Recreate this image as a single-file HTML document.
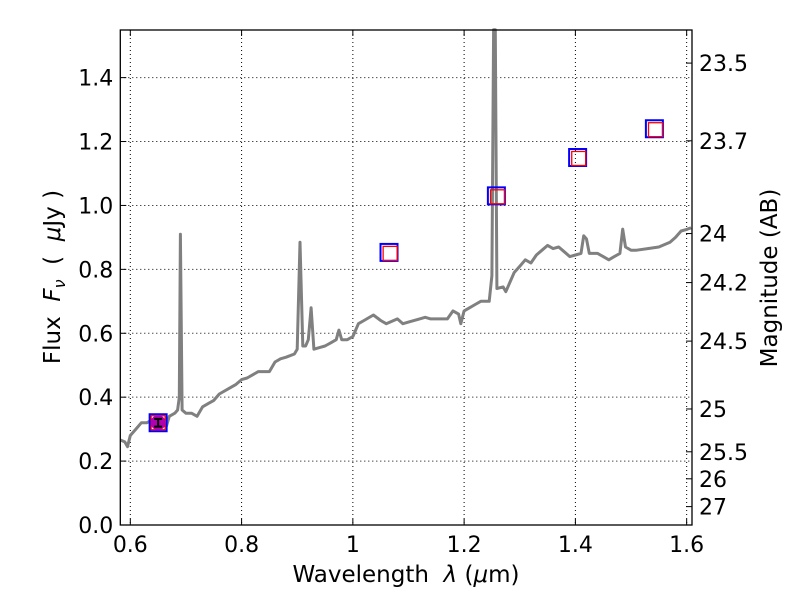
<!DOCTYPE html>
<html><head><meta charset="utf-8"><style>
body{margin:0;background:#fff}
svg text{font-family:"DejaVu Sans","Liberation Sans",sans-serif;fill:#000;white-space:pre}
</style></head><body>
<svg id="chart" width="800" height="600" viewBox="0 0 800 600" xmlns="http://www.w3.org/2000/svg" xml:space="preserve">
<rect width="800" height="600" fill="#fff"/>
<g id="grid"></g>
<g id="spec"></g>
<g id="pts"></g>
<g id="axes"></g>
<text x="406" y="582" font-size="23" text-anchor="middle">Wavelength  <tspan font-style="italic">λ</tspan> (<tspan font-style="italic">μ</tspan>m)</text>
<text transform="translate(60,277) rotate(-90)" font-size="23" text-anchor="middle">Flux  <tspan font-style="italic">F</tspan><tspan font-style="italic" font-size="16" dy="5">ν</tspan><tspan dy="-5">  (  </tspan><tspan font-style="italic">μ</tspan>Jy )</text>
<text transform="translate(777,278) rotate(-90)" font-size="23" text-anchor="middle">Magnitude (AB)</text>
</svg>
<script>
const X0=0.582,X1=1.6096,Y0=0,Y1=1.549;
const L=120.3,R=692,T=30,B=525;
const sx=v=>L+(v-X0)/(X1-X0)*(R-L);
const sy=v=>B-(v-Y0)/(Y1-Y0)*(B-T);
const NS="http://www.w3.org/2000/svg";
function mk(tag,attrs,parent){const e=document.createElementNS(NS,tag);for(const k in attrs)e.setAttribute(k,attrs[k]);parent.appendChild(e);return e;}

const xTicks=[0.6,0.8,1.0,1.2,1.4,1.6];
const xTickLabels=["0.6","0.8","1","1.2","1.4","1.6"];
const yTicks=[0,0.2,0.4,0.6,0.8,1.0,1.2,1.4];
const yTickLabels=["0.0","0.2","0.4","0.6","0.8","1.0","1.2","1.4"];
const magTicks=[23.5,23.7,24,24.2,24.5,25,25.5,26,27];
const magTickLabels=["23.5","23.7","24","24.2","24.5","25","25.5","26","27"];
const specWave=[0.582,0.59,0.595,0.6,0.61,0.62,0.63,0.64,0.65,0.66,0.665,0.67,0.68,0.685,0.688,0.69,0.693,0.70,0.71,0.72,0.73,0.74,0.75,0.76,0.78,0.79,0.80,0.81,0.82,0.83,0.84,0.85,0.86,0.87,0.88,0.895,0.9,0.905,0.91,0.915,0.92,0.925,0.93,0.94,0.95,0.96,0.97,0.975,0.98,0.99,1.0,1.01,1.02,1.037,1.05,1.06,1.08,1.09,1.1,1.12,1.13,1.14,1.15,1.17,1.18,1.19,1.194,1.2,1.21,1.22,1.23,1.24,1.245,1.25,1.253,1.256,1.259,1.27,1.275,1.28,1.29,1.30,1.31,1.32,1.33,1.34,1.35,1.36,1.37,1.38,1.39,1.4,1.41,1.415,1.42,1.425,1.44,1.45,1.46,1.47,1.48,1.485,1.49,1.50,1.51,1.53,1.55,1.57,1.58,1.59,1.6,1.608];
const specFlux=[0.266,0.26,0.245,0.28,0.3,0.32,0.32,0.33,0.33,0.32,0.31,0.34,0.35,0.36,0.40,0.91,0.36,0.35,0.35,0.34,0.37,0.38,0.39,0.41,0.43,0.44,0.455,0.46,0.47,0.48,0.48,0.48,0.51,0.52,0.525,0.535,0.55,0.885,0.56,0.56,0.58,0.68,0.55,0.555,0.56,0.57,0.58,0.61,0.58,0.58,0.59,0.63,0.64,0.657,0.64,0.63,0.645,0.63,0.635,0.645,0.65,0.645,0.645,0.645,0.67,0.66,0.63,0.67,0.68,0.69,0.70,0.70,0.70,0.78,1.55,1.55,0.74,0.745,0.73,0.75,0.79,0.81,0.83,0.82,0.845,0.86,0.875,0.865,0.87,0.855,0.84,0.845,0.85,0.905,0.895,0.85,0.85,0.84,0.83,0.84,0.85,0.926,0.87,0.86,0.86,0.865,0.87,0.885,0.9,0.92,0.925,0.93];
const photWave=[0.65,1.065,1.258,1.404,1.542];
const photFlux=[0.32,0.853,1.03,1.15,1.24];
const modelWave=[0.65,1.067,1.26,1.406,1.544];
const modelFlux=[0.32,0.85,1.027,1.147,1.237];
const obsWave=[0.65];
const obsFlux=[0.32];
const obsErr=[0.012];

const grid=document.getElementById('grid'),axes=document.getElementById('axes');
xTicks.forEach((v,i)=>{
  let l=mk('line',{x1:sx(v),x2:sx(v),y1:T,y2:B,stroke:'#000','stroke-width':1,'stroke-dasharray':'1,3'},grid);
  
  
  mk('line',{x1:sx(v),x2:sx(v),y1:B,y2:B-6,stroke:'#000'},axes);
  mk('line',{x1:sx(v),x2:sx(v),y1:T,y2:T+6,stroke:'#000'},axes);
  let t=mk('text',{x:sx(v),y:B+27,'font-size':22,'text-anchor':'middle'},axes);
  t.textContent=xTickLabels[i];
  
  
});
yTicks.forEach((v,i)=>{
  let l=mk('line',{x1:L,x2:R,y1:sy(v),y2:sy(v),stroke:'#000','stroke-width':1,'stroke-dasharray':'1,3'},grid);
  
  
  mk('line',{x1:L,x2:L+6,y1:sy(v),y2:sy(v),stroke:'#000'},axes);
  let t=mk('text',{x:L-7,y:sy(v)+8,'font-size':22,'text-anchor':'end'},axes);
  t.textContent=yTickLabels[i];
  
  
});
magTicks.forEach((m,i)=>{
  const f=Math.pow(10,(23.9-m)/2.5);
  mk('line',{x1:R-6,x2:R,y1:sy(f),y2:sy(f),stroke:'#000'},axes);
  let t=mk('text',{x:R+7,y:sy(f)+8,'font-size':22},axes);
  t.textContent=magTickLabels[i];
  
  
});
let fr=mk('rect',{x:L,y:T,width:R-L,height:B-T,fill:'none',stroke:'#000','stroke-width':1.3},axes);



const spec=document.getElementById('spec');
let d=specWave.map((w,i)=>(i?'L':'M')+sx(w).toFixed(1)+','+sy(specFlux[i]).toFixed(1)).join('');
let sp=mk('path',{d:d,fill:'none',stroke:'#808080','stroke-width':3,'stroke-linejoin':'round'},spec);



const pts=document.getElementById('pts');
photWave.forEach((w,i)=>{
  let r=mk('rect',{x:sx(w)-8.5,y:sy(photFlux[i])-8.5,width:17,height:17,fill:'none',stroke:'#0000ff','stroke-width':2},pts);
  
  
});
modelWave.forEach((w,i)=>{
  let r=mk('rect',{x:sx(w)-7,y:sy(modelFlux[i])-7,width:14,height:14,fill:'none',stroke:'#ff0000','stroke-width':1.3},pts);
  
  
});
obsWave.forEach((w,i)=>{
  let c=mk('circle',{cx:sx(w),cy:sy(obsFlux[i]),r:7.5,fill:'#b000b0'},pts);
  
  
  const x=sx(w),y1=sy(obsFlux[i]+obsErr[i]),y2=sy(obsFlux[i]-obsErr[i]);
  mk('path',{d:`M${x},${y1}L${x},${y2}M${x-4},${y1}L${x+4},${y1}M${x-4},${y2}L${x+4},${y2}`,stroke:'#000','stroke-width':2},pts);
});
</script>
</body></html>
